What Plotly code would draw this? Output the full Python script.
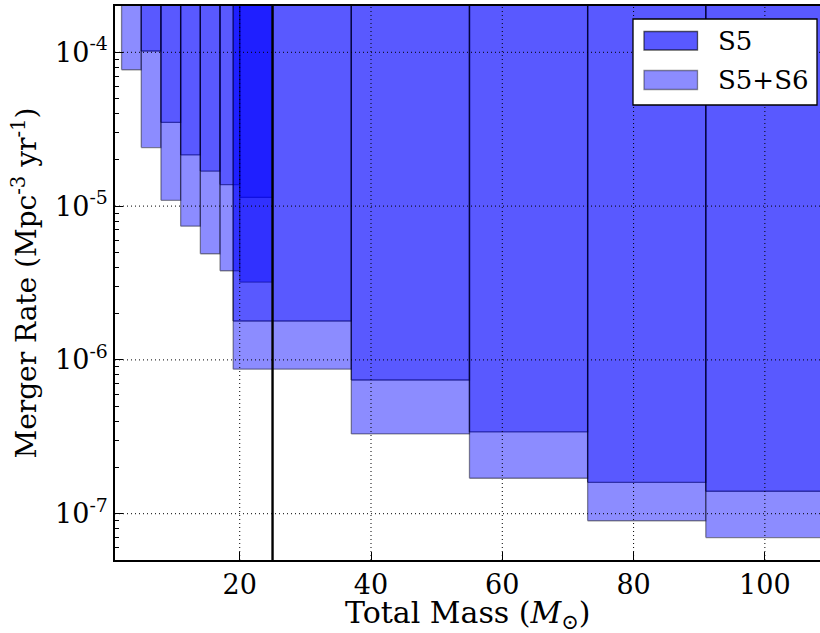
import plotly.graph_objects as go
import math

# ---- data ----
mass_lo = [2, 5, 8, 11, 14, 17, 20, 19, 37, 55, 73, 91]
mass_hi = [5, 8, 11, 14, 17, 20, 25, 37, 55, 73, 91, 109]
rate_s5 = [None, 1.02e-4, 3.5e-5, 2.15e-5, 1.69e-5, 1.38e-5, 1.14e-5,
           1.79e-6, 7.4e-7, 3.4e-7, 1.6e-7, 1.4e-7]
rate_s5s6 = [7.7e-5, 2.4e-5, 1.09e-5, 7.4e-6, 4.9e-6, 3.8e-6, 3.2e-6,
             8.7e-7, 3.3e-7, 1.7e-7, 9.0e-8, 7.0e-8]
boundary_mass = 25
x_ticks = [20, 40, 60, 80, 100]
y_ticks = [1e-7, 1e-6, 1e-5, 1e-4]
y_ticktext = ["10<sup>-7</sup>", "10<sup>-6</sup>", "10<sup>-5</sup>", "10<sup>-4</sup>"]
series_names = ["S5", "S5+S6"]
x_title = "Total Mass (<i>M</i><sub>⊙</sub>)"
y_title = "Merger Rate (Mpc<sup>-3</sup> yr<sup>-1</sup>)"

X_RANGE = [1, 108.4]
Y_RANGE = [5e-8, 2e-4]
TOP = 1e-1  # rectangles extend past the top of the axes

W, H = 820, 633
ML, MR, MT, MB = 115, 0, 6, 73
PW, PH = W - ML - MR, H - MT - MB

FONT = "DejaVu Serif"
styles = {
    "S5": dict(fill="rgba(0,0,255,0.36)", line="rgba(0,0,0,0.62)"),
    "S5+S6": dict(fill="rgba(0,0,255,0.45)", line="rgba(0,0,0,0.42)"),
}

fig = go.Figure()
for name, rates in zip(series_names, [rate_s5, rate_s5s6]):
    for lo, hi, r in zip(mass_lo, mass_hi, rates):
        if r is None:
            continue
        fig.add_trace(go.Scatter(
            x=[lo, hi, hi, lo, lo], y=[r, r, TOP, TOP, r],
            mode="lines", fill="toself",
            fillcolor=styles[name]["fill"],
            line=dict(color=styles[name]["line"], width=1.3),
            name=name, showlegend=False, hoverinfo="skip",
        ))


def px2paper(px, py):
    return (px - ML) / PW, (H - MB - py) / PH


shapes = []
for xv in x_ticks:
    shapes.append(dict(type="line", xref="x", yref="paper", x0=xv, x1=xv, y0=0, y1=1,
                       line=dict(color="black", width=1, dash="1px,3px"), layer="above"))
for yv in y_ticks:
    shapes.append(dict(type="line", xref="paper", yref="y", x0=0, x1=1,
                       y0=yv, y1=yv,
                       line=dict(color="black", width=1, dash="1px,3px"), layer="above"))
shapes.append(dict(type="line", xref="x", yref="paper", x0=boundary_mass, x1=boundary_mass,
                   y0=0, y1=1, line=dict(color="black", width=2.4), layer="above"))

# manual legend (box, swatches, labels)
annotations = []
bx0, by0 = px2paper(633, 105)
bx1, by1 = px2paper(817, 19)
shapes.append(dict(type="rect", xref="paper", yref="paper", x0=bx0, y0=by0, x1=bx1, y1=by1,
                   fillcolor="white", line=dict(color="black", width=1.3), layer="above"))
legend_rows = [(31.5, 50), (70.5, 89.5)]
for i, name in enumerate(series_names):
    top, bot = legend_rows[i]
    sx0, sy0 = px2paper(644, bot)
    sx1, sy1 = px2paper(697.5, top)
    fillc = styles[name]["fill"] if name == "S5+S6" else "rgba(0,0,255,0.65)"
    shapes.append(dict(type="rect", xref="paper", yref="paper", x0=sx0, y0=sy0, x1=sx1, y1=sy1,
                       fillcolor=fillc, line=dict(color=styles[name]["line"], width=1.3),
                       layer="above"))
    tx, ty = px2paper(716, (top + bot) / 2)
    annotations.append(dict(text=name, xref="paper", yref="paper", x=tx, y=ty,
                            xanchor="left", yanchor="middle", showarrow=False,
                            font=dict(family=FONT, size=26, color="black")))

# x-axis title as an annotation (placed a little lower than plotly allows)
tx, ty = px2paper(ML + PW / 2, 614)
annotations.append(dict(text=x_title, xref="paper", yref="paper", x=tx, y=ty,
                        xanchor="center", yanchor="middle", showarrow=False,
                        font=dict(family=FONT, size=30, color="black")))

fig.update_layout(shapes=shapes, annotations=annotations)

fig.update_layout(
    width=W, height=H,
    margin=dict(l=ML, r=MR, t=MT, b=MB, autoexpand=False),
    plot_bgcolor="white", paper_bgcolor="white",
    font=dict(family=FONT, size=22, color="black"),
    showlegend=False,
    xaxis=dict(range=X_RANGE, tickvals=x_ticks, showgrid=False, zeroline=False,
               showline=True, linecolor="black", linewidth=1.5, mirror=True,
               ticks="inside", ticklen=8, tickcolor="black", automargin=True,
               tickfont=dict(family=FONT, size=27)),
    yaxis=dict(type="log", range=[math.log10(Y_RANGE[0]), math.log10(Y_RANGE[1])],
               tickvals=y_ticks, ticktext=y_ticktext,
               showgrid=False, zeroline=False,
               showline=True, linecolor="black", linewidth=1.5,
               ticks="inside", ticklen=8, tickcolor="black", automargin=True,
               tickfont=dict(family=FONT, size=27),
               minor=dict(ticks="inside", ticklen=4, tickcolor="black", dtick="D1", showgrid=False),
               title=dict(text=y_title, font=dict(family=FONT, size=28), standoff=10)),
)

fig.write_html("out.html", config={"displayModeBar": False},
               post_script="document.body.style.margin='0';document.body.style.overflow='hidden';")
